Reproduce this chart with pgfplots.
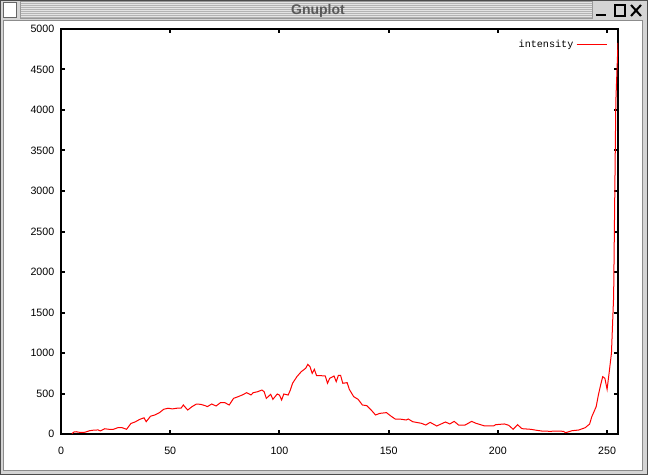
\documentclass[border=0pt]{standalone}
\usepackage{pgfplots}
\pgfplotsset{compat=1.18}
\usepackage{fontspec}
\setmainfont{Liberation Sans}
\newfontfamily\monofont{Liberation Mono}
\definecolor{framegray}{RGB}{212,212,212}
\definecolor{stripedark}{RGB}{180,180,180}
\definecolor{stripelight}{RGB}{228,228,228}
\begin{document}
\begin{tikzpicture}
\useasboundingbox (0,0) rectangle (486pt,356.25pt);
\begin{scope}[x=0.75pt,y=-0.75pt,shift={(0pt,356.25pt)}]
  % window background
  \fill[framegray] (0,0) rectangle (648,475);
  \draw[black!70,line width=0.75pt] (0.5,0.5) rectangle (647.5,474.5);
  % interior
  \fill[white] (4,21) rectangle (642,470);
  \draw[black!45,line width=0.75pt] (3.5,20.5) rectangle (642.5,470.5);
  % title bar stripes
  \fill[stripelight] (20,2) rectangle (592,19);
  \foreach \yy in {3,5,...,17} { \draw[stripedark,line width=0.75pt] (20,\yy+0.5) -- (592,\yy+0.5); }
  \draw[black!40,line width=0.75pt] (20,2) rectangle (592,19);
  \node[text=black!65, font=\bfseries\fontsize{10.5}{11}\selectfont] at (318,10.5) {Gnuplot};
  % icon
  \fill[white] (3,3) rectangle (16,18);
  \draw[black!60,line width=0.75pt] (3,3) -- (3,18) -- (16,18) -- (16,3) -- cycle;
  % buttons
  \draw[black,line width=1.5pt] (596,15.5) -- (606,15.5);
  \draw[black,line width=1.2pt] (615,5) rectangle (625,16);
  \draw[black,line width=1.5pt] (631,5) -- (641,16) (641,5) -- (631,16);
\end{scope}
\begin{axis}[
  at={(45.75pt,30.75pt)}, anchor=south west,
  width=417.75pt, height=303.75pt, scale only axis,
  xmin=0, xmax=255, ymin=0, ymax=5000,
  xtick={0,50,...,250}, ytick={0,500,...,5000},
  axis line style={black, line width=1.5pt},
  tick style={black, line width=1.5pt},
  tick align=inside, major tick length=3pt,
  scaled y ticks=false,
  /pgf/number format/1000 sep={},
  /pgf/number format/assume math mode=true,
  ticklabel style={font=\fontsize{8}{9}\selectfont},
  xticklabel style={yshift=-6pt},
  yticklabel style={xshift=-1.5pt},
  legend plot pos=right,
  legend style={draw=none, fill=none, at={(1,1)}, anchor=north east,
    xshift=-8pt, yshift=-6pt, font=\monofont\fontsize{7.6}{8}\selectfont,
    inner sep=0pt, /tikz/every even column/.append style={column sep=2pt}},
  legend image code/.code={\draw[red, line width=0.75pt] (0pt,0pt) -- (22.5pt,0pt);},
]
\addplot[red, line width=0.75pt] coordinates {
(5,5) (6,25) (7,28) (8,22) (10,20) (11,22) (13,40) (15,48) (17,50) (18,38)
(20,65) (22,58) (24,58) (26,78) (28,78) (30,58) (32,130) (34,150) (36,180)
(38,200) (39,152) (41,220) (43,235) (45,262) (47,305) (49,318) (51,310)
(53,318) (55,320) (56,358) (58,296) (60,338) (62,370) (64,366) (66,350)
(67,338) (69,370) (71,346) (73,387) (75,387) (77,358) (79,440) (81,460)
(83,482) (85,510) (87,482) (88,510) (90,522) (92,543) (93,522) (94,440)
(96,490) (97,428) (99,494) (100,481) (101,420) (102,494) (104,481) (105,543)
(106,626) (108,708) (110,770) (112,811) (113,860) (114,831) (115,749)
(116,798) (117,720) (119,720) (121,716) (122,626) (123,687) (125,716)
(126,646) (127,724) (128,724) (129,626) (131,634) (132,551) (134,461)
(136,428) (138,358) (140,350) (142,296) (144,235) (146,255) (149,264)
(151,222) (153,185) (155,185) (158,173) (159,185) (161,152) (165,132)
(167,111) (169,144) (172,99) (176,148) (178,124) (180,156) (182,111)
(185,111) (188,156) (190,132) (194,99) (198,99) (199,115) (203,124)
(205,107) (207,58) (209,115) (211,66) (215,58) (217,49) (220,37) (224,33)
(227,37) (230,33) (231,16) (234,41) (237,49) (240,78) (242,123) (243,214)
(245,337) (246,480) (247,600) (248,708) (249,687) (250,551) (251,770)
(252,1000) (253,1700) (254,4100) (255,4830)
};
\addlegendentry{intensity}
\end{axis}
\end{tikzpicture}
\end{document}
